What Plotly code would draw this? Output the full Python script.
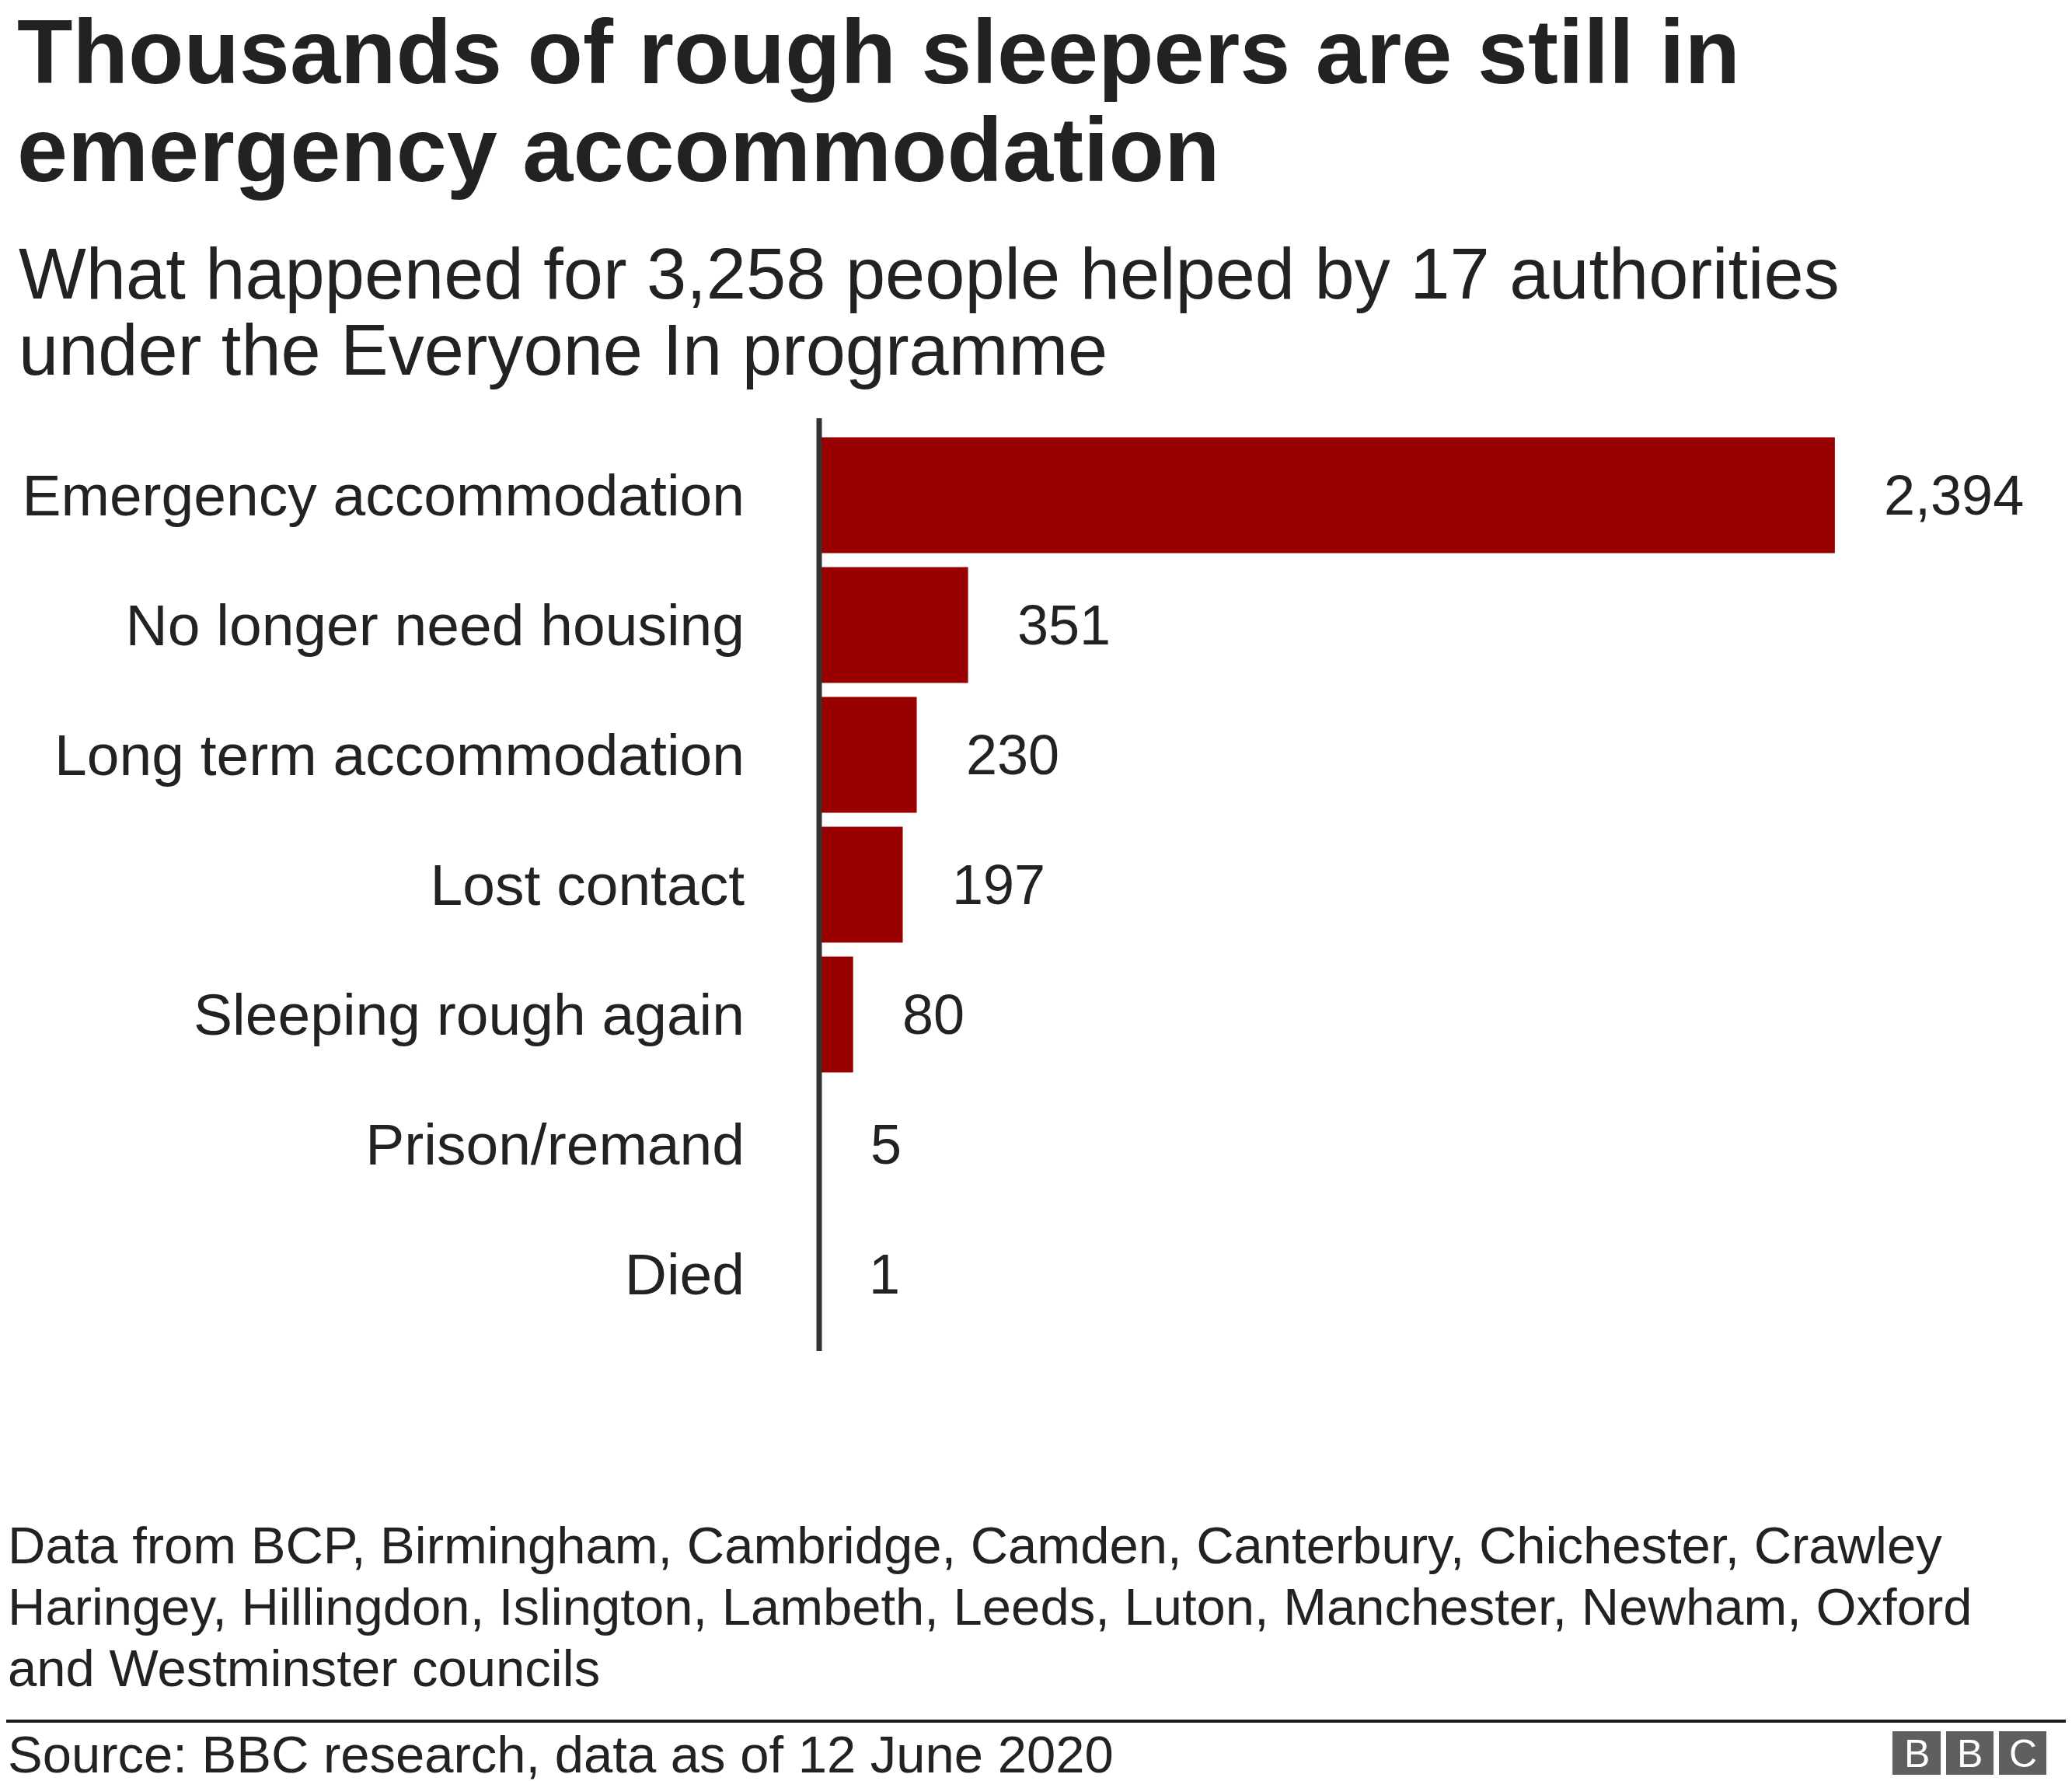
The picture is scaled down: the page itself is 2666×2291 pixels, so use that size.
import plotly.graph_objects as go

categories = ["Emergency accommodation", "No longer need housing", "Long term accommodation",
              "Lost contact", "Sleeping rough again", "Prison/remand", "Died"]
values = [2394, 351, 230, 197, 80, 5, 1]
value_labels = ["2,394", "351", "230", "197", "80", "5", "1"]

title_lines = ["Thousands of rough sleepers are still in", "emergency accommodation"]
subtitle_lines = ["What happened for 3,258 people helped by 17 authorities",
                  "under the Everyone In programme"]
note_lines = ["Data from BCP, Birmingham, Cambridge, Camden, Canterbury, Chichester, Crawley",
              "Haringey, Hillingdon, Islington, Lambeth, Leeds, Luton, Manchester, Newham, Oxford",
              "and Westminster councils"]
source_text = "Source: BBC research, data as of 12 June 2020"

OFF = 8  # default page body margin
PAGE_W, PAGE_H = 2666, 2291
W, H = PAGE_W - OFF, PAGE_H - OFF
# plot area in page pixels
PL, PR, PT, PB = 1054, 2600, 538, 1738
L, T = PL - OFF, PT - OFF
R, B = W - (PR - OFF), H - (PB - OFF)
PW, PH = PR - PL, PB - PT
FONT = "Liberation Sans, Arial, Helvetica, sans-serif"
TXT = "#222222"
BAR = "#990000"


def px(x):  # page pixel -> paper x
    return (x - PL) / PW


def py(y):  # page pixel -> paper y
    return (PB - y) / PH


fig = go.Figure()
fig.add_trace(go.Bar(
    x=values, y=categories, orientation="h",
    marker=dict(color=BAR, line=dict(width=0)),
    hoverinfo="skip",
))

annotations = []
for v, c, lab in zip(values, categories, value_labels):
    annotations.append(dict(x=v, y=c, xref="x", yref="y", text=lab, showarrow=False,
                            xanchor="left", yanchor="middle", xshift=61,
                            font=dict(family=FONT, size=72, color=TXT)))


def line_annot(text, x, y_center, size, bold=False, color=TXT):
    t = f"<b>{text}</b>" if bold else text
    return dict(x=px(x), y=py(y_center), xref="paper", yref="paper", text=t,
                showarrow=False, xanchor="left", yanchor="middle",
                font=dict(family=FONT, size=size, color=color))


annotations.append(line_annot(title_lines[0], 20, 107 - 41, 117, bold=True))
annotations.append(line_annot(title_lines[1], 20, 233 - 41, 117, bold=True))
annotations.append(line_annot(subtitle_lines[0], 22, 384 - 32, 92))
annotations.append(line_annot(subtitle_lines[1], 22, 482 - 32, 92))
for i, ln in enumerate(note_lines):
    annotations.append(line_annot(ln, 8, 2010 + 79 * i - 23, 67))
annotations.append(line_annot(source_text, 8, 2280 - 24, 67))

shapes = [
    dict(type="line", xref="paper", yref="paper", x0=0, x1=0, y0=0, y1=1,
         line=dict(color="#333333", width=7), layer="above"),
    dict(type="line", xref="paper", yref="paper", x0=px(0), x1=px(PAGE_W), y0=py(2214), y1=py(2214),
         line=dict(color="#1a1a1a", width=4)),
]

logo_boxes = [(2435, 2497, "B"), (2504, 2565, "B"), (2572, 2633, "C")]
for x0, x1, letter in logo_boxes:
    shapes.append(dict(type="rect", xref="paper", yref="paper", x0=px(x0), x1=px(x1),
                       y0=py(2283), y1=py(2227), fillcolor="#5f5f5f", line=dict(width=0)))
    annotations.append(dict(x=px((x0 + x1) / 2), y=py(2256), xref="paper", yref="paper",
                            text=letter, showarrow=False, xanchor="center", yanchor="middle",
                            font=dict(family=FONT, size=50, color="#ffffff")))

fig.update_layout(
    width=W, height=H,
    margin=dict(l=L, r=R, t=T, b=B, pad=0),
    paper_bgcolor="#ffffff", plot_bgcolor="#ffffff",
    bargap=0.108,
    showlegend=False,
    xaxis=dict(range=[0, PW / 0.5459], visible=False, showgrid=False, zeroline=False),
    yaxis=dict(type="category", categoryorder="array", categoryarray=categories,
               range=[6.593, -0.593], showgrid=False, zeroline=False, showline=False,
               ticks="", ticklabelstandoff=95,
               tickfont=dict(family=FONT, size=75, color=TXT)),
    annotations=annotations,
    shapes=shapes,
)

fig.write_html("out.html")
